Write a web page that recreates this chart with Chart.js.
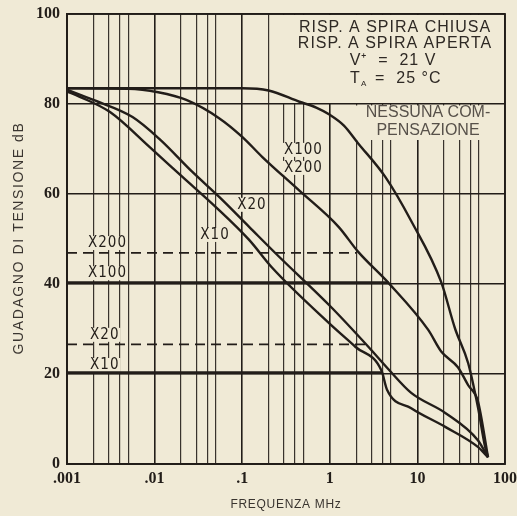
<!DOCTYPE html>
<html>
<head>
<meta charset="utf-8">
<script src="https://cdn.jsdelivr.net/npm/chart.js@4/dist/chart.umd.min.js"></script>
<style>
  html, body { margin: 0; padding: 0; background: #f0ead6; }
  canvas { display: block; }
</style>
</head>
<body>
<canvas id="chart" width="517" height="516"></canvas>
<script>
// frequency (MHz) / gain (dB)
const openFreq = [0.001, 0.1, 0.2, 0.45, 0.7, 1, 1.45, 2.1, 4.3, 8.5, 18.7, 27, 38, 49, 59, 64];
const openGain = [83.5, 83.5, 83, 80.5, 79.2, 77.6, 75.2, 71.3, 63.8, 54, 40.4, 30, 22.4, 12.7, 4, 1.5];

const x100Freq = [0.001, 0.005, 0.011, 0.023, 0.055, 0.1, 0.17, 0.44, 1.26, 2.1, 4.7, 13.3, 18.7, 29, 38, 49, 64];
const x100Gain = [83.5, 83.4, 82.6, 80.9, 76.8, 72.7, 68.2, 60.9, 52.7, 47.2, 40.2, 29.8, 25, 21.5, 17.5, 14, 1.5];

const x20Freq = [0.001, 0.002, 0.0056, 0.0114, 0.027, 0.055, 0.12, 0.25, 1.02, 2.77, 4.7, 8.5, 21, 49, 64];
const x20Gain = [83.2, 80.9, 77.1, 72.2, 64.9, 59.3, 52.7, 46.5, 35, 26, 21, 15.8, 11.3, 5.3, 1.5];

const x10Freq = [0.001, 0.0014, 0.0031, 0.0088, 0.0208, 0.05, 0.12, 0.22, 0.98, 1.97, 3.9, 4.5, 8.5, 21, 49, 64];
const x10Gain = [82.8, 81.6, 78.2, 70.4, 63.8, 57.1, 49.8, 43.6, 31.3, 26, 20.7, 16.5, 12.4, 8.2, 3.8, 1.5];

// closed loop responses
const closedX10Freq = [0.001, 3.9];
const closedX10Gain = [20.3, 20.3];
const closedX20Freq = [0.001, 2.6];
const closedX20Gain = [26.6, 26.6];
const closedX100Freq = [0.001, 4.7];
const closedX100Gain = [40.3, 40.3];
const closedX200Freq = [0.001, 2.0];
const closedX200Gain = [46.9, 46.9];

const xGridTicks = [0.001, 0.002, 0.003, 0.004, 0.005, 0.01, 0.02, 0.03, 0.04, 0.05,
  0.1, 0.2, 0.3, 0.4, 0.5, 1, 2, 3, 4, 5, 10, 20, 30, 40, 50, 100];
const xDecades = [0.001, 0.01, 0.1, 1, 10, 100];
const xDecadeLabels = ['.001', '.01', '.1', '1', '10', '100'];

const curveLabels = ['X200', 'X100', 'X20', 'X10', 'X20', 'X10', 'X100', 'X200'];
const curveLabelFreq = [0.0029, 0.0029, 0.0027, 0.0027, 0.129, 0.049, 0.5, 0.5];
const curveLabelGain = [49.1, 42.4, 28.7, 22, 57.6, 50.9, 69.8, 65.8];

const ink = '#221d19';
const gridInk = '#38322c';
const paper = '#f0ead6';

function points(fs, gs) {
  return fs.map((f, i) => ({ x: f, y: gs[i] }));
}

function isDecade(v) {
  return xDecades.some(d => Math.abs(d - v) < d * 1e-6);
}

function drawText(ctx, str, x, y, font, spacing, color, align) {
  ctx.font = font;
  ctx.fillStyle = color;
  ctx.textAlign = align || 'center';
  ctx.textBaseline = 'middle';
  ctx.letterSpacing = (spacing || 0) + 'px';
  ctx.fillText(str, x, y);
  ctx.letterSpacing = '0px';
}

const paperPlugin = {
  id: 'paper',
  beforeDraw(chart) {
    const ctx = chart.ctx;
    ctx.save();
    ctx.fillStyle = paper;
    ctx.fillRect(0, 0, chart.width, chart.height);
    ctx.restore();
  },
  beforeDatasetsDraw(chart) {
    const { ctx, chartArea, scales: { x, y } } = chart;
    ctx.save();
    ctx.fillStyle = paper;
    // panel for the conditions text, no grid inside
    const right = chartArea.right - 1;
    const x1 = x.getPixelForValue(0.2) + 1.5;
    const top = chartArea.top + 1;
    const y80 = y.getPixelForValue(80);
    ctx.fillRect(x1, top, right - x1, y80 - 1 - top);
    const x2 = x.getPixelForValue(1) + 1.5;
    ctx.fillRect(x2, y80 + 1.5, right - x2, y.getPixelForValue(72) - y80 - 1.5);

    // curve labels
    const labelFont = '15px "Liberation Sans Narrow", "DejaVu Sans Condensed", "Liberation Sans", sans-serif';
    ctx.font = labelFont;
    curveLabels.forEach((t, i) => {
      const px = x.getPixelForValue(curveLabelFreq[i]);
      const py = y.getPixelForValue(curveLabelGain[i]);
      ctx.letterSpacing = '1px';
      const w = ctx.measureText(t).width;
      ctx.fillStyle = paper;
      ctx.fillRect(px - w / 2 - 1, py - 7, w + 2, 14);
      drawText(ctx, t, px, py, labelFont, 1, ink);
    });

    // frame
    ctx.strokeStyle = ink;
    ctx.lineWidth = 1.8;
    ctx.strokeRect(chartArea.left, chartArea.top, chartArea.right - chartArea.left, chartArea.bottom - chartArea.top);
    ctx.restore();
  },
  afterDraw(chart) {
    const { ctx, scales: { x } } = chart;
    ctx.save();
    const sans = '"Liberation Sans", Arial, sans-serif';
    const cx = 395;
    const txt = '#2e2924';
    drawText(ctx, 'RISP. A SPIRA CHIUSA', cx, 28, '16px ' + sans, 1, txt);
    drawText(ctx, 'RISP. A SPIRA APERTA', cx, 44, '16px ' + sans, 1, txt);
    drawText(ctx, 'V\u207A  =  21 V', cx - 2, 61, '16px ' + sans, 1, txt);
    // T with subscript A
    drawText(ctx, 'T', 350, 79, '16px ' + sans, 0, txt, 'left');
    drawText(ctx, 'A', 361, 84, '8px ' + sans, 0, txt, 'left');
    drawText(ctx, '=  25 \u00B0C', 375, 79, '16px ' + sans, 1, txt, 'left');

    drawText(ctx, 'NESSUNA COM-', 428, 113, '16px ' + sans, 0, '#57514a');
    drawText(ctx, 'PENSAZIONE', 428, 131, '16px ' + sans, 0, '#57514a');

    // axis titles
    drawText(ctx, 'FREQUENZA MHz', (x.left + x.right) / 2, 505, '12px ' + sans, 0.7, '#3a3530');
    ctx.translate(19, 238);
    ctx.rotate(-Math.PI / 2);
    drawText(ctx, 'GUADAGNO DI TENSIONE dB', 0, 0, '14px ' + sans, 1.6, '#3a3530');
    ctx.restore();
  }
};

const base = { borderColor: ink, pointRadius: 0, fill: false, cubicInterpolationMode: 'monotone' };
const datasets = [
  { label: 'Nessuna compensazione', data: points(openFreq, openGain), borderWidth: 2.4 },
  { label: 'X100 / X200', data: points(x100Freq, x100Gain), borderWidth: 2.4 },
  { label: 'X20', data: points(x20Freq, x20Gain), borderWidth: 2.4 },
  { label: 'X10', data: points(x10Freq, x10Gain), borderWidth: 2.4 },
  { label: 'X10 spira chiusa', data: points(closedX10Freq, closedX10Gain), borderWidth: 3 },
  { label: 'X20 spira chiusa', data: points(closedX20Freq, closedX20Gain), borderWidth: 1.8, borderDash: [10, 6] },
  { label: 'X100 spira chiusa', data: points(closedX100Freq, closedX100Gain), borderWidth: 3 },
  { label: 'X200 spira chiusa', data: points(closedX200Freq, closedX200Gain), borderWidth: 1.8, borderDash: [10, 6] }
].map(d => Object.assign({}, base, d));

new Chart(document.getElementById('chart'), {
  type: 'line',
  data: { datasets },
  plugins: [paperPlugin],
  options: {
    responsive: false,
    animation: false,
    layout: { padding: { left: 0, right: 12, top: 14, bottom: 0 } },
    plugins: { legend: { display: false }, tooltip: { enabled: false } },
    scales: {
      x: {
        type: 'logarithmic',
        min: 0.001,
        max: 100,
        afterBuildTicks: s => { s.ticks = xGridTicks.map(v => ({ value: v })); },
        afterFit: s => { s.height = 52; s.paddingLeft = 0; s.paddingRight = 0; },
        grid: {
          drawTicks: false,
          color: c => isDecade(c.tick.value) ? ink : gridInk,
          lineWidth: c => isDecade(c.tick.value) ? 1.6 : 1.2
        },
        border: { color: ink, width: 1.8 },
        ticks: {
          autoSkip: false,
          maxRotation: 0,
          padding: 5,
          color: ink,
          font: { family: '"Liberation Serif", serif', size: 16, weight: 'bold' },
          callback: v => {
            const i = xDecades.findIndex(d => Math.abs(d - v) < d * 1e-6);
            return i < 0 ? '' : xDecadeLabels[i];
          }
        }
      },
      y: {
        min: 0,
        max: 100,
        afterFit: s => { s.width = 67; s.paddingTop = 0; s.paddingBottom = 0; },
        grid: { drawTicks: false, color: ink, lineWidth: 1.5 },
        border: { color: ink, width: 1.8 },
        ticks: {
          stepSize: 20,
          padding: 7,
          color: ink,
          font: { family: '"Liberation Serif", serif', size: 16, weight: 'bold' }
        }
      }
    }
  }
});
</script>
</body>
</html>
